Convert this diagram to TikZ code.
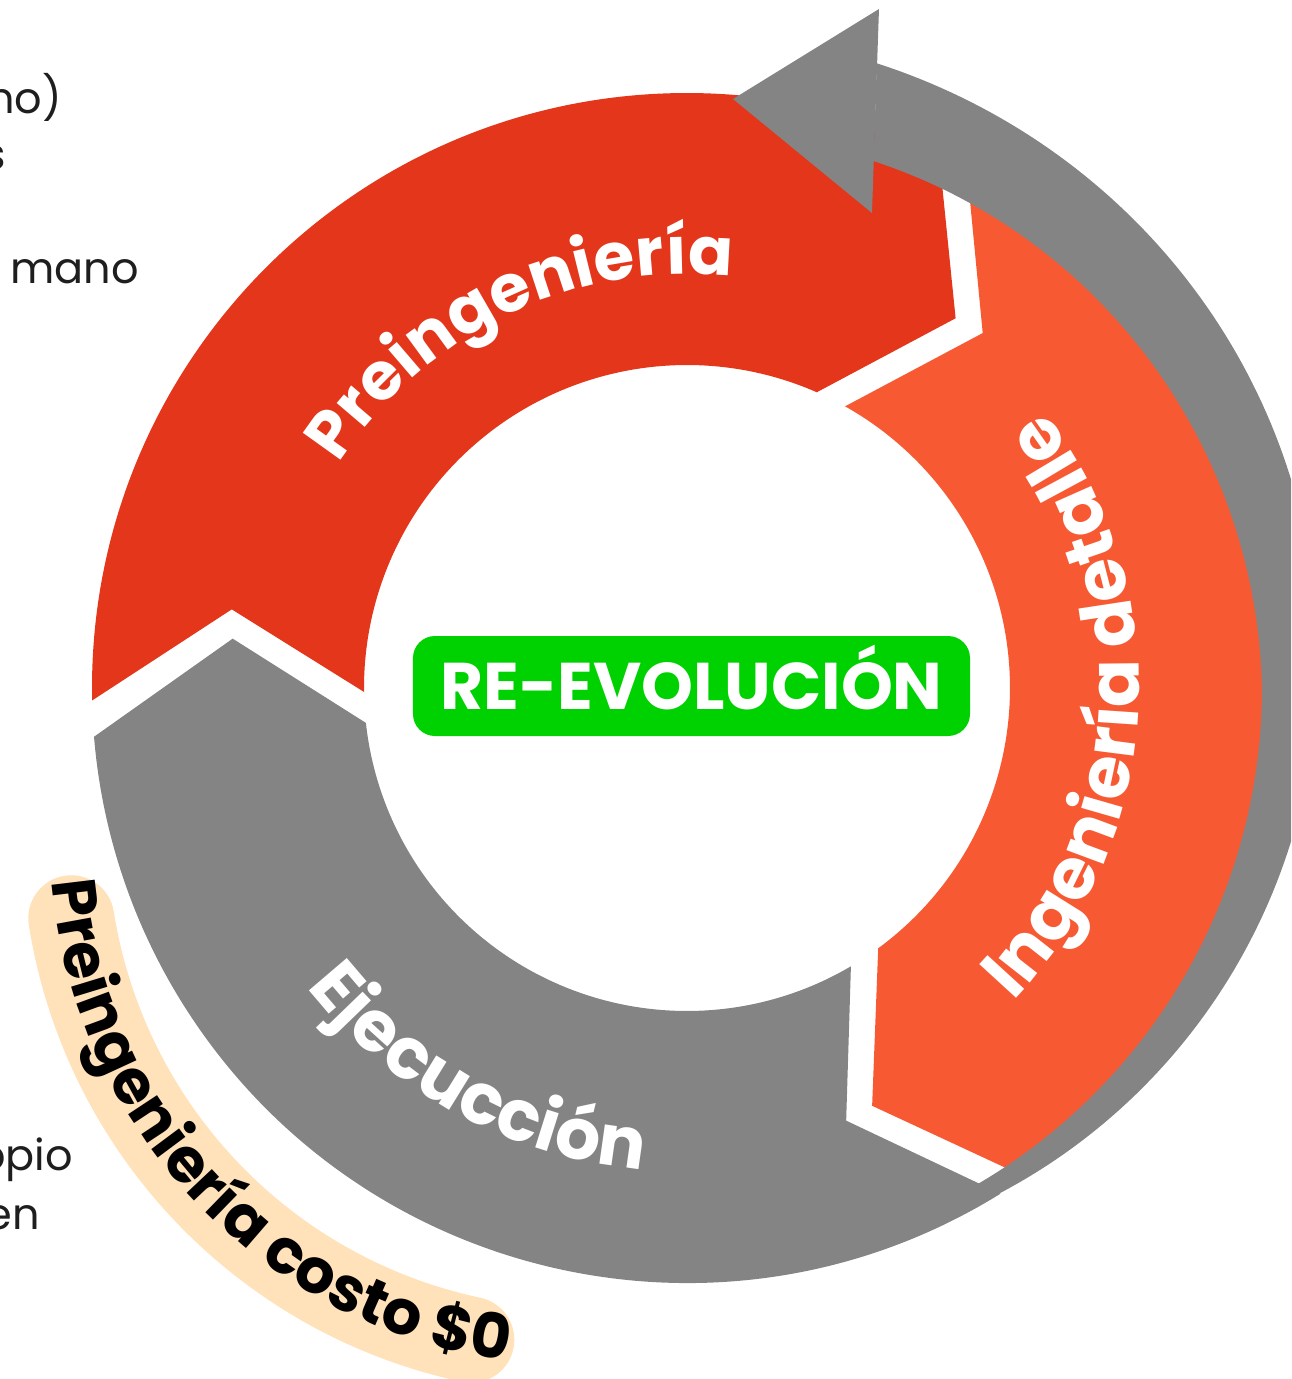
\documentclass[tikz,border=0pt]{standalone}
\usepackage{fontspec}
\setmainfont{Poppins}
\usetikzlibrary{decorations.text}
\definecolor{cred}{HTML}{E3361A}
\definecolor{corange}{HTML}{F75A32}
\definecolor{cgrey}{HTML}{848484}
\definecolor{cgreen}{HTML}{00D100}
\definecolor{cpeach}{HTML}{FFE1BA}
\definecolor{ctext}{HTML}{1E1E1E}
\newcommand\lblfont[1]{\fontsize{#1}{#1}\selectfont\bfseries\color{white}}
\newcommand\costofont{\fontsize{62}{62}\selectfont\bfseries\color{black}}
\newcommand\dollarsign{\$}
\tikzset{
  arctext/.style={decorate, decoration={text along path, text align=center, text={#1}}},
  frag/.style={font=\fontsize{43}{43}\selectfont, text=ctext, inner sep=0pt},
}
\begin{document}
\begin{tikzpicture}[x=1pt,y=1pt]
\useasboundingbox (-687,-691) rectangle (604,688);
\clip (-687,-691) rectangle (604,688);

% left text fragments
\node[frag, anchor=base east] (f1) at (-625,574) {no)};
\node[frag, anchor=base east] (f2) at (-681,518) {s};
\node[frag, anchor=base west] (f3) at (-677,404) {mano};
\node[frag, anchor=base east] (f4) at (-614,-482) {opio};
\node[frag, anchor=base east] (f5) at (-647,-541) {en};

% peach band
\draw[cpeach, line width=86, line cap=round] ([shift={(-109,-150)}]189:513) arc[start angle=189, end angle=258, radius=513];
\path[arctext={|\costofont|Preingenier{í}a costo {\dollarsign}0}] ([shift={(-109,-150)}]173.5:528) arc[start angle=173.5, end angle=273.5, radius=528];

% ring segments
\fill[cred] (181.2:595) arc[start angle=181.2, end angle=65, radius=595] -- (54:457) -- (66.3:323) arc[start angle=66.3, end angle=180.7, radius=323] -- (170.2:462) -- cycle;
\fill[corange] (62:595) arc[start angle=62, end angle=-55.3, radius=595] -- (-66.1:457) -- (-53.7:323) arc[start angle=-53.7, end angle=60.7, radius=323] -- (50.2:462) -- cycle;
\fill[cgrey] (-58.2:595) arc[start angle=-58.2, end angle=-175.3, radius=595] -- (-186.2:457) -- (-173.8:323) arc[start angle=-173.8, end angle=-59.5, radius=323] -- (-69.8:461) -- cycle;

% feedback arrow
\fill[cgrey] plot[domain=73.1:-75, samples=150] (\x:{593+0.45*(\x+60)+11*sin(1.35237*(\x+60))})
  -- plot[domain=-75:70.5, samples=150] (\x:{575-16*max(\x,0)/70.5}) -- cycle;
\fill[cgrey] (192,679) -- (46,589) -- (185,475) -- cycle;

% ring labels
\path[arctext={|\lblfont{66}|Preingenier{í}a}] (160.5:414) arc[start angle=160.5, end angle=70.5, radius=414];
\path[arctext={|\lblfont{71}|Ingenier{í}a detalle}] (-58:452) arc[start angle=-58, end angle=52, radius=452];
\path[arctext={|\lblfont{71}|Ejecucci{ó}n}] (201.5:484) arc[start angle=201.5, end angle=281.5, radius=484];

% center
\node[fill=cgreen, rounded corners=22pt, minimum width=557pt, minimum height=100pt, inner sep=0pt, text height=46pt, text depth=0pt, text=white, font=\fontsize{66}{66}\selectfont\bfseries] (evo) at (4.5,2) {RE-EVOLUCIÓN};
\end{tikzpicture}
\end{document}
